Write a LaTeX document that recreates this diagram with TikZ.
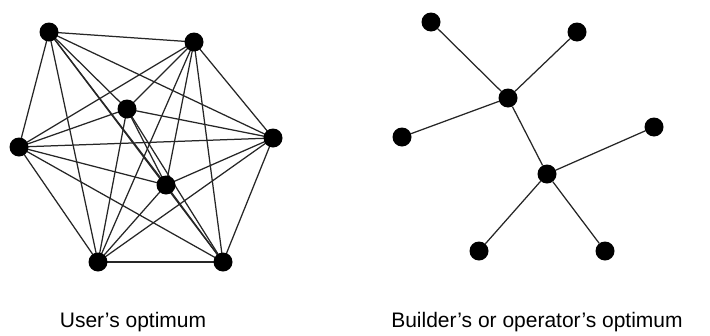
\documentclass[tikz,border=0pt]{standalone}
\usepackage{fontspec}
\setmainfont{Liberation Sans}
\begin{document}
\begin{tikzpicture}[x=1pt,y=-1pt,
  vtx/.style={circle,fill=black,inner sep=0pt,minimum size=19pt},
  edge/.style={draw=black!85,line width=1.25pt},
  caption/.style={anchor=base,inner sep=0pt,font=\fontsize{21}{24}\selectfont}]
\useasboundingbox (0,0) rectangle (710,335);
% complete graph on eight vertices
\coordinate (a1) at (49,32);
\coordinate (a2) at (194,42);
\coordinate (a3) at (127,109);
\coordinate (a4) at (273,138);
\coordinate (a5) at (19,147);
\coordinate (a6) at (166,185);
\coordinate (a7) at (98,262);
\coordinate (a8) at (223,262);
\foreach \i in {1,...,8}{
  \foreach \j in {1,...,8}{
    \ifnum\i<\j \draw[edge] (a\i) -- (a\j);\fi
  }
}
\foreach \i in {1,...,8}{ \node[vtx] (n\i) at (a\i) {}; }
% tree with two hubs
\node[vtx] (t1) at (431,22) {};
\node[vtx] (t2) at (577,32) {};
\node[vtx] (t3) at (508,98) {};
\node[vtx] (t4) at (402,137) {};
\node[vtx] (t5) at (654,127) {};
\node[vtx] (t6) at (547,174) {};
\node[vtx] (t7) at (479,251) {};
\node[vtx] (t8) at (605,251) {};
\draw[edge] (t1) -- (t3);
\draw[edge] (t2) -- (t3);
\draw[edge] (t4) -- (t3);
\draw[edge] (t3) -- (t6);
\draw[edge] (t5) -- (t6);
\draw[edge] (t7) -- (t6);
\draw[edge] (t8) -- (t6);
% captions
\node[caption] (c1) at (133,327) {User’s optimum};
\node[caption] (c2) at (537,327) {Builder’s or operator’s optimum};
\end{tikzpicture}
\end{document}
